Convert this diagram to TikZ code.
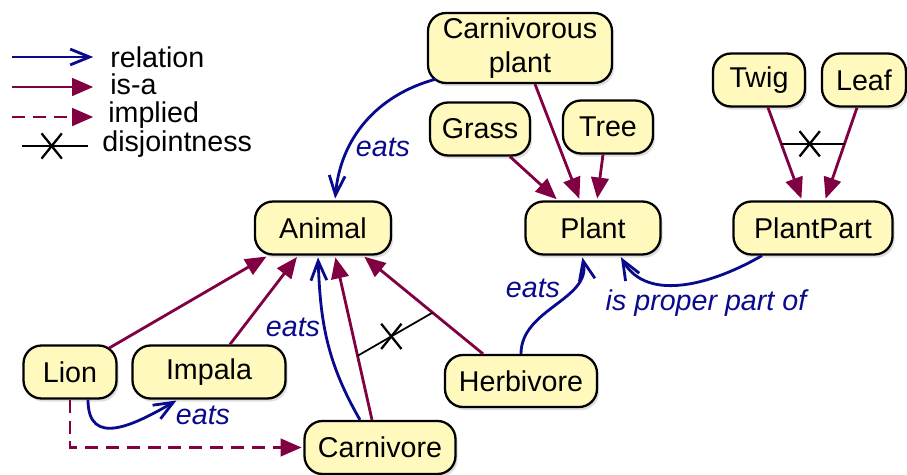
\documentclass[tikz,border=0pt]{standalone}
\usepackage{fontspec}
\setmainfont{Liberation Sans}
\usepackage{xcolor}
\usetikzlibrary{arrows.meta,positioning,calc,shapes.misc,shadows}
\definecolor{relblue}{RGB}{10,10,140}
\definecolor{isapurple}{RGB}{128,0,66}
\definecolor{conceptfill}{RGB}{255,249,190}
\newcommand{\labelfont}{\fontsize{16.3}{19.5}\selectfont}

\tikzset{
  concept/.style={draw=black, line width=1.3pt, fill=conceptfill,
    rounded corners=0.36cm, minimum height=1.06cm, inner sep=0pt, align=center,
    drop shadow={opacity=0.25, shadow xshift=1.2pt, shadow yshift=-1.8pt}},
  relation/.style={relblue, line width=1.6pt, shorten >=1pt,
    -{Straight Barb[length=11pt,width=9pt]}},
  isa/.style={isapurple, line width=1.6pt, shorten >=1pt,
    -{Triangle[length=12pt,width=10pt]}},
  implied/.style={isa, dash pattern=on 7.4pt off 4.5pt},
  disjoint/.style={black, line width=1pt},
  xmark/.style={cross out, draw=black, line width=1.3pt,
    minimum width=0.36cm, minimum height=0.46cm, inner sep=0pt},
  rellabel/.style={relblue, font=\labelfont\itshape, inner sep=0pt},
}

\begin{document}
\begin{tikzpicture}[x=0.02cm,y=0.02cm,font=\labelfont]
  \useasboundingbox (0,0) rectangle (907,474);
  % legend
  \coordinate (lg1a) at (12,417);  \coordinate (lg1b) at (95,417);
  \coordinate (lg2a) at (12,387);  \coordinate (lg2b) at (95,387);
  \coordinate (lg3a) at (12,357);  \coordinate (lg3b) at (95,357);
  \coordinate (lg4a) at (22,328);  \coordinate (lg4b) at (88,328);
  \draw[relation] (lg1a) -- (lg1b);
  \draw[isa] (lg2a) -- (lg2b);
  \draw[implied] (lg3a) -- (lg3b);
  \draw[disjoint] (lg4a) -- (lg4b) node[xmark, pos=0.45] (lgx) {};
  \node[anchor=base west, inner sep=0pt] (lgrel) at (110,406) {relation};
  \node[anchor=base west, inner sep=0pt] (lgisa) at (110,379) {is-a};
  \node[anchor=base west, inner sep=0pt] (lgimp) at (108,351) {implied};
  \node[anchor=base west, inner sep=0pt] (lgdis) at (102,322) {disjointness};
  % concepts
  \node[concept, minimum width=3.68cm, minimum height=1.4cm] (cplant) at (520,426) {Carnivorous\\plant};
  \node[concept, minimum width=2.0cm] (grass) at (480,345) {Grass};
  \node[concept, minimum width=1.8cm] (tree) at (608,347) {Tree};
  \node[concept, minimum width=2.7cm] (plant) at (593,246) {Plant};
  \node[concept, minimum width=1.84cm] (twig) at (759,394) {Twig};
  \node[concept, minimum width=1.68cm] (leaf) at (864,394) {Leaf};
  \node[concept, minimum width=3.18cm] (plantpart) at (813,246) {PlantPart};
  \node[concept, minimum width=2.72cm] (animal) at (323,246) {Animal};
  \node[concept, minimum width=1.86cm] (lion) at (70,102) {Lion};
  \node[concept, minimum width=3.06cm] (impala) at (209,102) {Impala};
  \node[concept, minimum width=3.02cm] (carnivore) at (380,26.5) {Carnivore};
  \node[concept, minimum width=3.04cm, minimum height=1.04cm] (herbivore) at (521,93) {Herbivore};
  % is-a links
  \draw[isa] ($(lion.north east)+(-9,-4)$) -- ($(animal.south)+(-55,0)$);
  \draw[isa] ($(impala.north)+(21,0)$) -- ($(animal.south)+(-25,0)$);
  \draw[isa] ($(carnivore.north)+(-8,0)$) -- ($(animal.south)+(12,0)$)
    coordinate[pos=0.39] (cdis);
  \draw[isa] ($(herbivore.north)+(-38,0)$) -- ($(animal.south)+(40,0)$)
    coordinate[pos=0.42] (hdis);
  \draw[isa] ($(grass.south)+(30,0)$) -- ($(plant.north)+(-35,0)$);
  \draw[isa] ($(cplant.south)+(15,0)$) -- ($(plant.north)+(-13,0)$);
  \draw[isa] ($(tree.south)+(-5,0)$) -- ($(plant.north)+(4,0)$);
  \draw[isa] ($(twig.south)+(9,0)$) -- ($(plantpart.north)+(-11,0)$)
    coordinate[pos=0.39] (tdis);
  \draw[isa] ($(leaf.south)+(-7,0)$) -- ($(plantpart.north)+(12,0)$)
    coordinate[pos=0.39] (ldis);
  % implied
  \draw[implied] (lion.south) |- (carnivore.west);
  % disjointness
  \draw[disjoint] (cdis) -- (hdis) node[xmark, pos=0.45] (dx1) {};
  \draw[disjoint] (tdis) -- (ldis) node[xmark, pos=0.45] (dx2) {};
  % relations
  \draw[relation] ($(cplant.south west)+(9,5)$) to[out=195,in=85] ($(animal.north)+(12,0)$);
  \draw[relation] ($(carnivore.north)+(-20,0)$) to[out=120,in=-88] ($(animal.south)+(-5,0)$);
  \draw[relation] ($(lion.south)+(18,0)$) to[out=-90,in=210,looseness=1.4] ($(impala.south)+(-31,0)$);
  \draw[relation] (herbivore.north) to[out=90,in=-78] ($(plant.south)+(-11,0)$);
  \draw[relation] ($(plantpart.south)+(-51,0)$) to[out=210,in=-60] ($(plant.south)+(27,0)$);
  % relation labels
  \node[rellabel] (eats1) at (383,327) {eats};
  \node[rellabel] (eats2) at (293,147) {eats};
  \node[rellabel] (eats3) at (203,59) {eats};
  \node[rellabel] (eats4) at (533,186) {eats};
  \node[rellabel] (ppart) at (706,171) {is proper part of};
\end{tikzpicture}
\end{document}
